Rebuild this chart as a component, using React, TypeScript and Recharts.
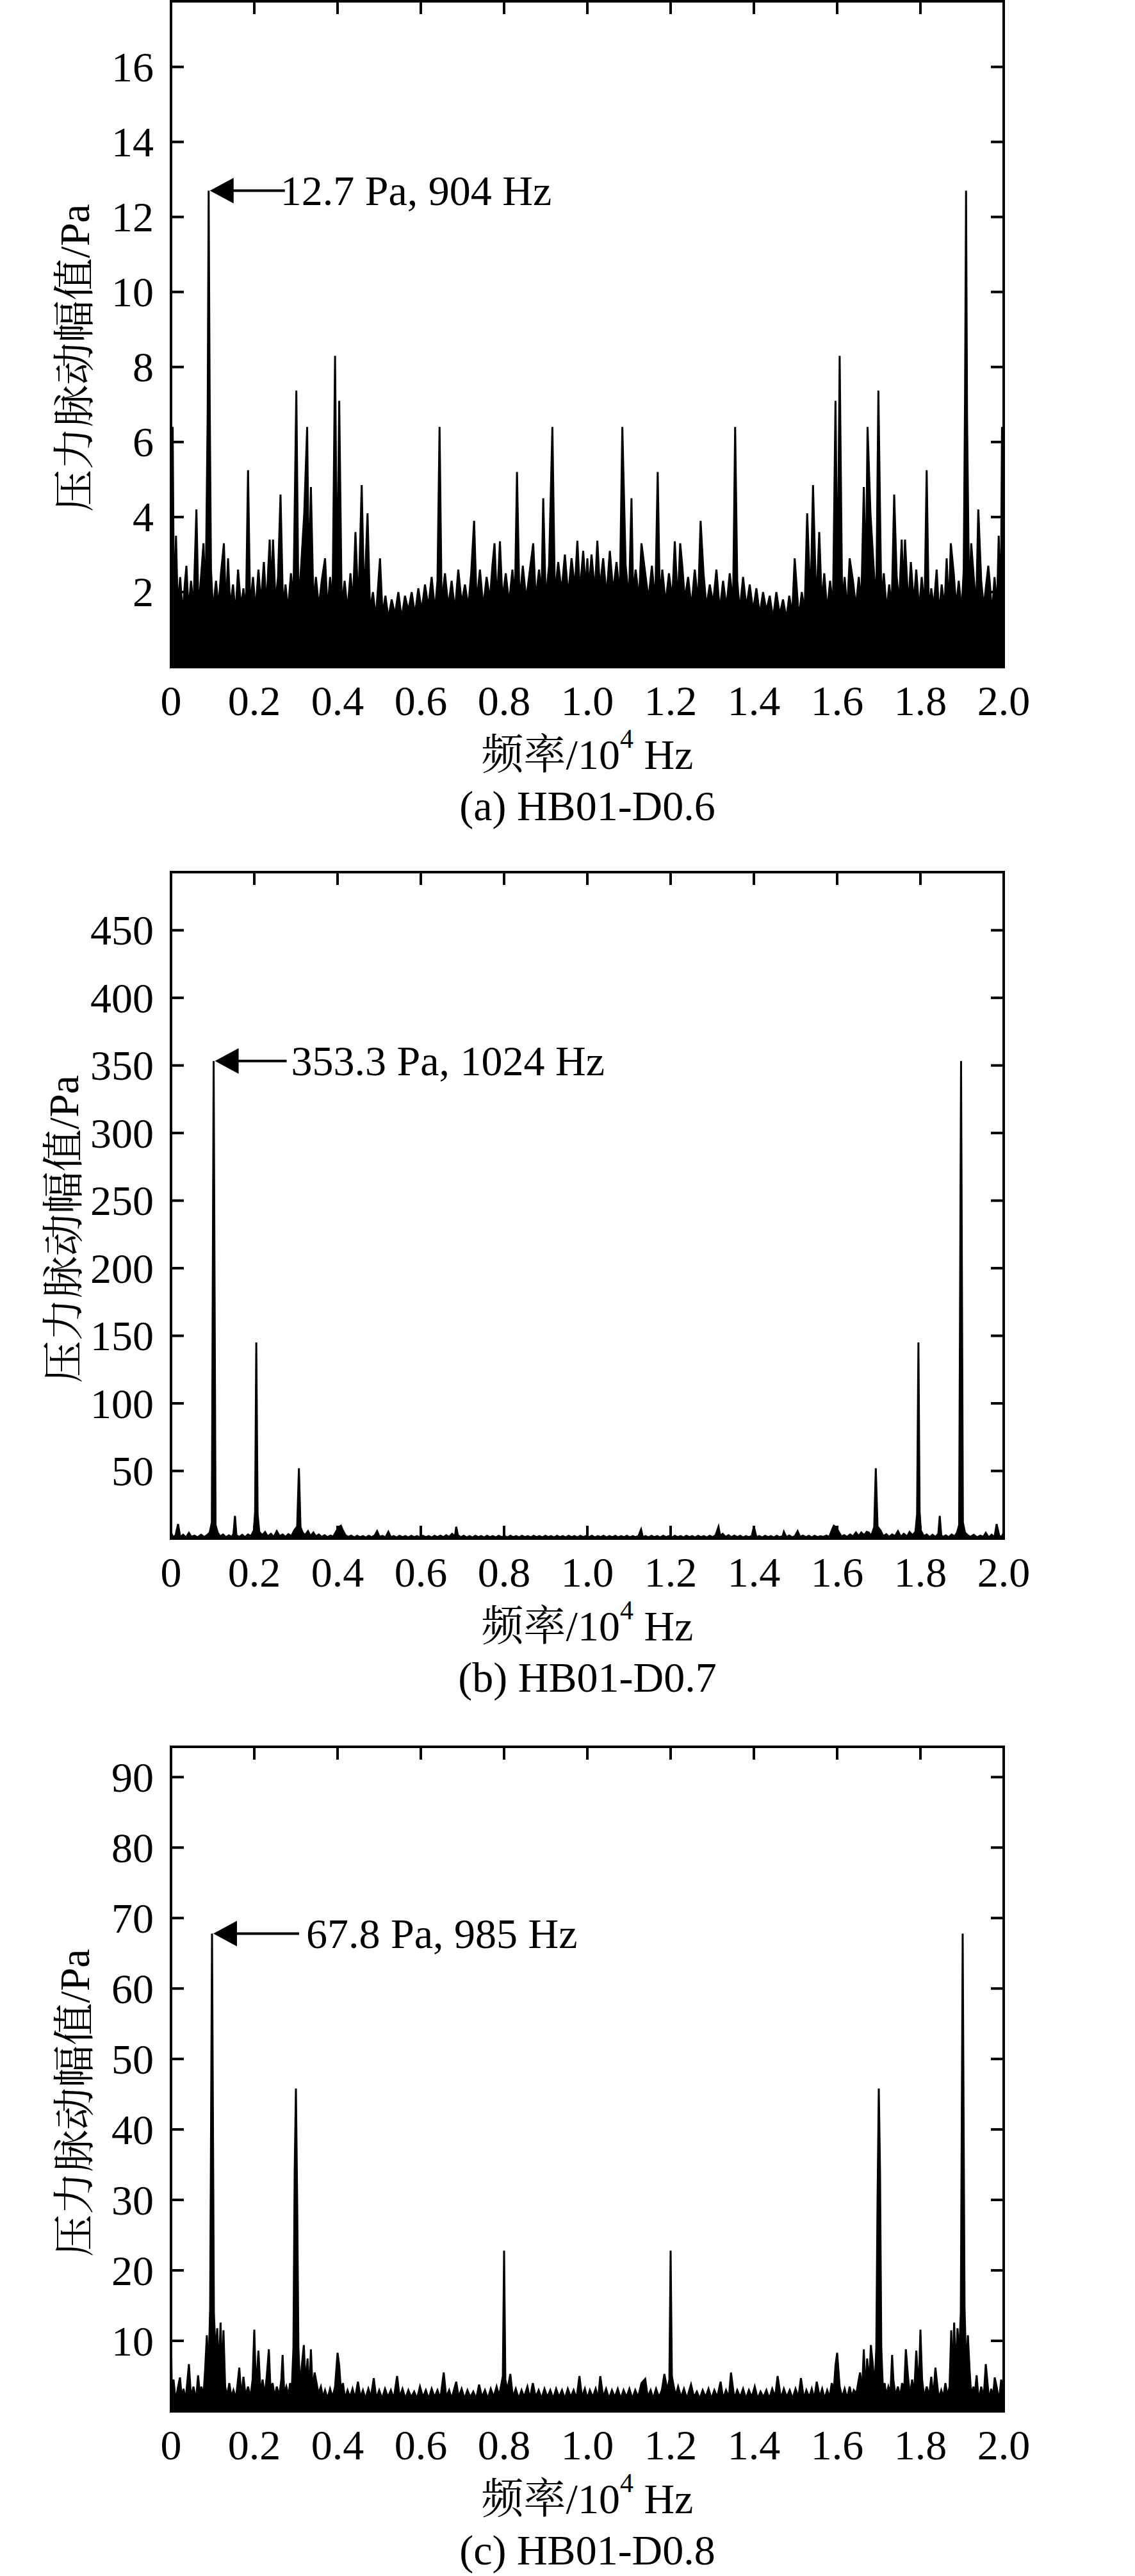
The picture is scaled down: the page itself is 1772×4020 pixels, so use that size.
import React from 'react';
import { ComposedChart, Area, Line, XAxis, YAxis, ReferenceDot, ReferenceArea } from 'recharts';

const FONT = "'Liberation Serif', 'Times New Roman', 'Noto Serif CJK SC', 'Noto Sans CJK SC', serif";
const FS = 66;

// frequency in Hz (axis shows 10^4 Hz), amplitude in Pa
const xTicks = [0, 2000, 4000, 6000, 8000, 10000, 12000, 14000, 16000, 18000, 20000];
const yTicksA = [2, 4, 6, 8, 10, 12, 14, 16];
const yTicksB = [50, 100, 150, 200, 250, 300, 350, 400, 450];
const yTicksC = [10, 20, 30, 40, 50, 60, 70, 80, 90];

const spectrumA: [number, number][] = [
  [0,2.0],[40,6.4],[70,1.5],[120,3.5],[160,1.6],[220,2.4],[280,1.4],[330,2.2],[370,2.7],[420,1.5],[480,2.3],[540,1.6],[610,4.2],[660,1.5],[720,2.4],[780,3.3],[830,1.7],[880,6.7],[904,12.7],[928,7.3],[960,2.6],
  [1010,1.5],[1080,2.3],[1140,1.6],[1200,2.5],[1270,3.3],[1320,1.5],[1370,2.9],[1420,1.6],[1490,2.2],[1550,1.4],[1610,2.6],[1680,1.6],[1740,2.1],[1800,1.5],[1850,5.25],[1900,1.6],[1970,2.4],
  [2030,1.5],[2100,2.6],[2160,1.7],[2230,2.8],[2290,1.6],[2370,3.4],[2410,2.0],[2450,3.4],[2510,1.7],[2570,2.4],[2630,4.6],[2690,1.6],[2750,2.2],[2810,1.5],[2880,2.5],[2940,1.8],
  [3010,7.37],[3060,1.7],[3120,2.6],[3200,4.1],[3270,6.4],[3310,2.2],[3360,4.8],[3420,1.7],[3480,2.4],[3550,1.6],[3620,2.3],[3700,2.9],[3760,1.5],[3820,2.4],[3880,1.7],[3940,8.3],[3990,1.8],
  [4040,7.1],[4100,1.6],[4170,2.3],[4240,1.5],[4310,2.5],[4370,1.7],[4430,3.6],[4500,1.6],[4580,4.85],[4640,1.7],[4720,4.1],[4780,1.5],[4850,2.0],[4920,1.3],
  [5020,2.9],[5080,1.4],[5150,1.9],[5220,1.3],[5300,1.8],[5380,1.4],[5460,2.0],[5540,1.3],[5620,1.9],[5700,1.5],[5780,2.0],[5860,1.4],[5940,2.1],
  [6020,1.5],[6100,2.2],[6180,1.6],[6260,2.4],[6340,1.5],[6400,2.3],[6450,6.4],[6500,1.7],[6580,2.5],[6660,1.6],[6740,2.3],[6820,1.5],[6900,2.6],[6980,1.7],
  [7060,2.2],[7140,1.6],[7210,2.5],[7280,3.9],[7340,1.7],[7420,2.6],[7500,1.6],[7580,2.4],[7660,1.8],[7720,2.7],[7770,3.3],[7830,1.7],[7900,3.35],[7960,1.8],
  [8040,2.5],[8120,1.7],[8200,2.6],[8260,1.8],[8310,5.2],[8370,1.7],[8450,2.7],[8530,1.8],[8610,2.5],[8700,3.3],[8760,1.8],[8840,2.6],[8900,1.9],[8940,4.5],
  [9000,1.8],[9080,2.7],[9160,6.4],[9220,1.9],[9300,2.8],[9380,2.0],[9460,3.0],[9540,1.9],[9620,2.9],[9700,2.1],[9760,3.37],[9820,2.0],[9900,3.1],[9960,2.1],
  [10000,2.9],[10040,2.1],[10100,3.0],[10180,2.0],[10240,3.37],[10300,2.1],[10380,2.9],[10460,1.9],[10540,3.1],[10620,2.0],[10700,2.8],[10780,1.9],[10840,6.4],[10920,2.7],
  [11000,1.8],[11060,4.5],[11100,1.9],[11160,2.6],[11240,1.8],[11300,3.3],[11390,2.5],[11470,1.8],[11550,2.7],[11630,1.7],[11690,5.2],[11740,1.8],[11800,2.6],[11880,1.7],[11960,2.5],
  [12040,1.8],[12100,3.35],[12170,1.7],[12230,3.3],[12280,2.7],[12340,1.8],[12420,2.4],[12500,1.6],[12580,2.6],[12660,1.7],[12720,3.9],[12790,2.5],[12860,1.6],[12940,2.2],
  [13020,1.7],[13100,2.6],[13180,1.5],[13260,2.3],[13340,1.6],[13420,2.5],[13500,1.7],[13550,6.4],[13600,2.3],[13660,1.5],[13740,2.4],[13820,1.6],[13900,2.2],[13980,1.5],
  [14060,2.1],[14140,1.4],[14220,2.0],[14300,1.5],[14380,1.9],[14460,1.3],[14540,2.0],[14620,1.4],[14700,1.8],[14780,1.3],[14850,1.9],[14920,1.4],[14980,2.9],
  [15080,1.3],[15150,2.0],[15220,1.5],[15280,4.1],[15360,1.7],[15420,4.85],[15500,1.6],[15570,3.6],[15630,1.7],[15690,2.5],[15760,1.5],[15830,2.3],[15900,1.6],[15960,7.1],
  [16010,1.8],[16060,8.3],[16120,1.7],[16180,2.4],[16240,1.5],[16300,2.9],[16380,2.3],[16450,1.6],[16520,2.4],[16580,1.7],[16640,4.8],[16690,2.2],[16730,6.4],[16800,4.1],[16880,2.6],[16940,1.7],[16990,7.37],
  [17060,1.8],[17120,2.5],[17190,1.5],[17250,2.2],[17310,1.6],[17370,4.6],[17430,2.4],[17490,1.7],[17550,3.4],[17590,2.0],[17630,3.4],[17710,1.6],[17770,2.8],[17840,1.7],[17900,2.6],[17970,1.5],
  [18030,2.4],[18100,1.6],[18150,5.25],[18200,1.5],[18260,2.1],[18320,1.6],[18390,2.6],[18450,1.4],[18510,2.2],[18580,1.6],[18630,2.9],[18680,1.5],[18730,3.3],[18800,2.5],[18860,1.6],[18920,2.3],[18990,1.5],
  [19040,2.6],[19072,7.3],[19096,12.7],[19120,6.7],[19170,1.7],[19220,3.3],[19280,2.4],[19340,1.6],[19390,4.2],[19460,2.3],[19520,1.6],[19580,2.2],[19630,2.7],[19670,2.2],[19720,1.4],[19780,2.4],[19840,1.6],[19880,3.5],[19930,1.5],[19960,6.4],[20000,2.0],
];

const spectrumB: [number, number][] = [
  [0,4.5],[50,1.0],[110,2.4],[170,10.7],[220,1.0],[290,2.8],[360,0.8],[430,4.2],[490,1.2],[560,2.2],[640,0.9],[720,2.8],[800,1.2],[870,2.6],[930,4.5],[980,12],[1024,353.3],[1070,10],
  [1120,4.5],[1180,1.5],[1250,3.0],[1320,1.0],[1390,2.4],[1460,1.2],[1500,3.5],[1536,16.8],[1570,2.5],[1640,1.2],[1710,2.8],[1780,1.0],[1850,3.0],[1920,1.8],[1990,6],
  [2020,20],[2048,145],[2080,18],[2120,5],[2190,2.5],[2260,4.8],[2320,1.5],[2400,3.5],[2470,1.2],[2540,5.5],[2610,1.8],[2680,3.0],[2750,1.2],[2820,3.2],[2890,1.8],[2960,6.0],
  [3030,9],[3072,52],[3110,8.5],[3160,4.5],[3220,2.5],[3290,5.5],[3350,1.8],[3420,4.5],[3480,1.5],[3550,3.0],[3620,1.2],[3690,2.5],[3760,1.0],[3830,2.2],[3900,1.5],[3970,5.5],
  [4030,8.5],[4080,9.5],[4130,6.0],[4190,2.5],[4260,1.2],[4330,2.2],[4400,0.8],[4470,2.0],[4540,1.0],[4610,1.8],[4680,0.8],[4750,2.0],[4820,1.0],[4890,2.2],[4950,5.5],
  [5010,1.2],[5080,2.0],[5150,0.8],[5220,5.0],[5280,1.0],[5350,1.8],[5420,0.8],[5490,2.0],[5560,1.0],[5630,1.8],[5700,0.8],[5770,2.0],[5840,1.0],[5910,1.8],[5980,0.8],
  [6050,2.0],[6120,1.0],[6190,1.8],[6260,0.8],[6330,2.0],[6400,1.0],[6470,2.2],[6540,1.0],[6610,2.5],[6680,1.2],[6750,3.5],[6820,1.5],[6850,8.7],[6890,2.5],[6960,1.0],
  [7030,2.0],[7100,0.8],[7170,1.8],[7240,0.8],[7310,2.0],[7380,1.0],[7450,1.8],[7520,0.8],[7590,2.0],[7660,1.0],[7730,1.8],[7800,0.8],[7870,2.0],[7940,1.0],
  [8010,1.8],[8080,0.8],[8150,2.0],[8220,1.0],[8290,1.8],[8360,0.8],[8430,2.0],[8500,1.0],[8570,1.8],[8640,0.8],[8710,2.0],[8780,1.0],[8850,1.8],[8920,0.8],[8990,2.0],
  [9060,1.0],[9130,1.8],[9200,0.8],[9270,2.0],[9340,1.0],[9410,1.8],[9480,0.8],[9550,2.0],[9620,1.0],[9690,1.8],[9760,0.8],[9830,2.0],[9900,1.0],[9970,1.8],
  [10040,1.0],[10110,2.0],[10180,0.8],[10250,1.8],[10320,1.0],[10390,2.0],[10460,0.8],[10530,1.8],[10600,1.0],[10670,2.0],[10740,0.8],[10810,1.8],[10880,1.0],[10950,2.0],
  [11020,0.8],[11090,1.8],[11160,1.0],[11230,2.0],[11290,6.7],[11330,1.0],[11400,1.8],[11470,0.8],[11540,2.0],[11610,1.0],[11680,1.8],[11750,0.8],[11820,2.0],[11890,1.0],[11960,1.8],
  [12030,0.8],[12100,2.0],[12170,1.0],[12240,1.8],[12310,0.8],[12380,2.0],[12450,1.0],[12520,1.8],[12590,0.8],[12660,2.0],[12730,1.0],[12800,1.8],[12870,0.8],[12940,2.0],
  [13010,1.0],[13080,2.5],[13150,8.7],[13190,2.0],[13250,3.5],[13320,1.2],[13390,2.5],[13460,1.0],[13530,2.2],[13600,1.0],[13670,2.0],[13740,0.8],[13810,1.8],[13880,1.0],[13950,2.0],
  [14000,8.7],[14060,1.0],[14130,1.8],[14200,0.8],[14270,2.0],[14340,1.0],[14410,1.8],[14480,0.8],[14550,2.0],[14620,1.0],[14690,1.8],[14720,5.0],[14780,1.0],[14850,2.2],[14920,0.8],[14990,2.0],
  [15050,5.5],[15110,1.2],[15180,2.2],[15250,1.0],[15320,2.0],[15390,0.8],[15460,2.0],[15530,1.0],[15600,1.8],[15670,1.2],[15740,2.2],[15810,1.2],[15870,6.0],[15920,9.5],[15970,8.5],
  [16030,5.5],[16100,1.5],[16170,2.5],[16240,1.2],[16310,3.0],[16380,1.5],[16450,4.5],[16520,1.8],[16580,4.5],[16650,2.5],[16710,5.0],[16760,4.5],[16820,2.0],[16890,8.5],[16928,52],[16970,9],
  [17040,6.0],[17110,1.8],[17180,3.2],[17250,1.2],[17320,3.0],[17390,1.8],[17460,5.5],[17530,1.2],[17600,3.5],[17680,1.5],[17740,4.8],[17810,2.5],[17880,5],[17920,18],[17952,145],[17980,20],
  [18010,6],[18080,1.8],[18150,3.0],[18220,1.0],[18290,2.8],[18360,1.2],[18430,3.5],[18464,16.8],[18500,2.5],[18540,1.2],[18610,2.4],[18680,1.0],[18750,3.0],[18820,1.5],[18880,4.5],[18930,10],[18976,353.3],
  [19020,12],[19070,4.5],[19130,2.6],[19200,1.2],[19280,2.8],[19360,0.9],[19440,2.2],[19510,1.2],[19570,4.2],[19640,0.8],[19710,2.8],[19780,1.0],[19830,10.7],[19890,2.4],[19950,1.0],[20000,4.5],
];

const spectrumC: [number, number][] = [
  [0,11],[20,2.5],[60,4.5],[110,1.5],[170,3.5],[215,4.8],[260,1.8],[300,3.2],[350,1.5],[430,6.7],[480,2.0],[540,3.5],[600,1.5],[650,5.1],[700,2.0],[730,3.5],[780,2.2],[820,6.0],[860,10.8],[900,5.5],[940,14.7],[985,67.8],
  [1030,14],[1070,8],[1110,11.8],[1150,5.5],[1190,12.6],[1230,4.5],[1260,11.5],[1300,3.5],[1350,2.2],[1400,4.0],[1450,2.0],[1500,3.0],[1560,1.8],[1640,6.2],[1690,2.0],[1740,4.9],[1790,2.2],[1850,3.5],[1910,2.0],[1960,4.5],
  [2000,11.6],[2040,3.0],[2100,8.6],[2150,2.5],[2200,4.5],[2250,2.2],[2300,5.0],[2350,8.8],[2390,3.0],[2440,4.0],[2490,2.0],[2540,3.5],[2600,2.2],[2650,4.5],[2680,8.0],[2720,2.5],[2770,3.5],[2820,2.2],[2860,4.0],[2900,3.0],[2940,9.0],[2970,34],
  [3000,45.8],[3030,30],[3060,9.0],[3100,3.5],[3150,7.0],[3190,9.4],[3230,4.0],[3280,7.5],[3320,2.5],[3360,8.8],[3400,3.0],[3450,5.5],[3490,4.2],[3540,2.5],[3600,3.5],[3650,2.0],[3700,3.0],[3760,1.8],[3820,3.2],[3880,2.0],[3940,3.5],
  [4000,8.3],[4040,6.5],[4080,3.0],[4130,4.0],[4180,1.8],[4240,3.0],[4300,2.0],[4360,3.2],[4420,1.8],[4490,4.2],[4550,2.0],[4610,3.0],[4670,1.8],[4740,3.2],[4800,2.0],[4870,4.7],[4930,1.8],
  [5000,3.0],[5070,1.8],[5140,3.2],[5210,2.0],[5280,3.0],[5350,1.8],[5430,5.0],[5490,2.0],[5560,3.2],[5630,1.8],[5700,3.0],[5770,2.0],[5840,2.8],[5910,1.8],[5980,3.5],
  [6050,2.0],[6120,3.0],[6190,1.8],[6260,3.2],[6330,2.0],[6400,3.0],[6470,1.8],[6550,5.5],[6610,2.0],[6680,3.0],[6740,1.8],[6850,4.2],[6910,2.0],[6980,3.2],
  [7050,1.8],[7120,3.0],[7190,2.0],[7260,2.8],[7330,1.8],[7400,3.8],[7470,2.0],[7540,3.0],[7610,1.8],[7680,3.2],[7750,2.0],[7820,3.5],[7880,2.2],[7940,4.0],[7970,5.0],
  [8000,22.8],[8030,4.5],[8080,3.0],[8150,5.3],[8210,2.0],[8280,3.2],[8350,1.8],[8420,3.0],[8480,2.0],[8560,3.5],[8620,1.8],[8690,4.0],[8760,2.0],[8830,3.0],[8900,1.8],[8970,3.2],
  [9040,2.0],[9110,3.0],[9180,1.8],[9250,3.2],[9320,2.0],[9390,3.0],[9460,1.8],[9530,3.2],[9600,2.0],[9670,3.0],[9740,1.8],[9810,5.0],[9870,2.0],[9940,3.2],
  [10000,1.8],[10060,3.0],[10130,2.0],[10200,3.2],[10260,1.8],[10310,5.0],[10380,2.0],[10450,3.2],[10520,1.8],[10590,3.0],[10660,2.0],[10730,3.2],[10800,1.8],[10870,3.0],[10940,2.0],
  [11010,3.2],[11080,1.8],[11150,3.0],[11220,2.0],[11300,4.0],[11390,4.6],[11450,2.0],[11520,3.0],[11580,1.8],[11650,3.2],[11720,2.0],[11790,3.0],[11850,5.3],[11920,3.0],[11970,4.5],
  [12000,22.8],[12030,5.0],[12060,4.0],[12120,2.2],[12180,3.5],[12250,2.0],[12320,3.2],[12390,1.8],[12490,3.8],[12560,2.0],[12630,2.8],[12700,1.8],[12770,3.0],[12840,2.0],[12910,3.2],[12980,1.8],
  [13050,3.0],[13120,2.0],[13200,4.2],[13260,1.8],[13330,3.0],[13400,2.0],[13450,5.5],[13530,1.8],[13600,3.0],[13670,2.0],[13740,3.2],[13810,1.8],[13880,3.0],[13950,2.0],
  [14020,3.5],[14090,1.8],[14160,2.8],[14230,2.0],[14300,3.0],[14370,1.8],[14440,3.2],[14510,2.0],[14570,5.0],[14650,1.8],[14720,3.2],[14790,2.0],[14860,3.0],[14930,1.8],
  [15000,3.2],[15070,2.0],[15130,4.7],[15200,1.8],[15260,3.0],[15330,2.0],[15390,3.2],[15450,1.8],[15510,4.2],[15580,2.0],[15640,3.2],[15700,1.8],[15760,3.0],[15820,2.0],[15870,4.0],[15920,3.0],[15960,6.5],
  [16000,8.3],[16060,3.5],[16120,2.0],[16180,3.2],[16240,1.8],[16300,3.5],[16350,2.0],[16400,3.0],[16460,2.5],[16510,4.2],[16550,5.5],[16600,3.0],[16640,8.8],[16680,2.5],[16720,7.5],[16770,4.0],[16810,9.4],[16850,7.0],[16900,3.5],[16940,9.0],[16970,30],
  [17000,45.8],[17030,34],[17060,9.0],[17100,3.0],[17140,4.0],[17180,2.2],[17230,3.5],[17280,2.5],[17320,8.0],[17350,4.5],[17400,2.2],[17460,3.5],[17510,2.0],[17560,4.0],[17610,3.0],[17650,8.8],[17700,5.0],[17750,2.2],[17800,4.5],[17850,2.5],[17900,8.6],[17960,3.0],
  [18000,11.6],[18040,4.5],[18090,2.0],[18150,3.5],[18210,2.2],[18260,4.9],[18310,2.0],[18360,6.2],[18440,1.8],[18500,3.0],[18550,2.0],[18600,4.0],[18650,2.2],[18700,3.5],[18740,11.5],[18770,4.5],[18810,12.6],[18850,5.5],[18890,11.8],[18930,8],[18970,14],
  [19015,67.8],[19060,14.7],[19100,5.5],[19140,10.8],[19180,6.0],[19220,2.2],[19270,3.5],[19300,2.0],[19350,5.1],[19400,1.5],[19460,3.5],[19520,2.0],[19570,6.7],[19650,1.5],[19700,3.2],[19740,1.8],[19785,4.8],[19830,3.5],[19890,1.5],[19940,4.5],[19980,2.5],[20000,5],
];

const peakA = { f: 904, v: 12.7, label: '12.7 Pa, 904 Hz' };
const peakB = { f: 1024, v: 353.3, label: '353.3 Pa, 1024 Hz' };
const peakC = { f: 985, v: 67.8, label: '67.8 Pa, 985 Hz' };

const Y_TITLE = '压力脉动幅值/Pa';
const captions = ['(a) HB01-D0.6', '(b) HB01-D0.7', '(c) HB01-D0.8'];

const TICK_LEN = 20;
const TICK_W = 4;
const fmtX = (v: number) => (v === 0 ? '0' : (v / 10000).toFixed(1));

const txt = { fontSize: FS, fontFamily: FONT, fill: '#000' };

const BottomTick = (props: any) => {
  const { x, y, payload } = props;
  const v = payload.value;
  const edge = v === 0 || v === 20000;
  return (
    <g>
      {!edge && <line x1={x} y1={y} x2={x} y2={y - TICK_LEN} stroke="#000" strokeWidth={TICK_W} />}
      <text x={x} y={y + 52} textAnchor="middle" dominantBaseline="central" {...txt}>{fmtX(v)}</text>
    </g>
  );
};

const TopTick = (props: any) => {
  const { x, y, payload } = props;
  const v = payload.value;
  if (v === 0 || v === 20000) return <g />;
  return <line x1={x} y1={y} x2={x} y2={y + TICK_LEN} stroke="#000" strokeWidth={TICK_W} />;
};

const LeftTick = (props: any) => {
  const { x, y, payload } = props;
  return (
    <g>
      <line x1={x} y1={y} x2={x + TICK_LEN} y2={y} stroke="#000" strokeWidth={TICK_W} />
      <text x={x - 27} y={y} textAnchor="end" dominantBaseline="central" {...txt}>{String(payload.value)}</text>
    </g>
  );
};

const RightTick = (props: any) => {
  const { x, y } = props;
  return <line x1={x} y1={y} x2={x - TICK_LEN} y2={y} stroke="#000" strokeWidth={TICK_W} />;
};

const makeXTitle = (caption: string) => (props: any) => {
  const vb = props.viewBox || { x: 267, y: 0, width: 1300, height: 270 };
  const cx = vb.x + vb.width / 2;
  return (
    <g>
      <text x={cx} y={vb.y + 136} textAnchor="middle" dominantBaseline="central" {...txt}>
        频率/10<tspan fontSize={42} dy={-24}>4</tspan><tspan dy={24}> Hz</tspan>
      </text>
      <text x={cx} y={vb.y + 216} textAnchor="middle" dominantBaseline="central" {...txt}>
        {caption}
      </text>
    </g>
  );
};

const makeYTitle = (tx: number) => (props: any) => {
  const vb = props.viewBox || { x: 0, y: 0, width: 267, height: 1000 };
  const cy = vb.y + vb.height / 2 + 37;
  return (
    <text x={tx} y={cy} transform={`rotate(-90 ${tx} ${cy})`} textAnchor="middle" dominantBaseline="central" {...txt}>
      {Y_TITLE}
    </text>
  );
};

const makeArrow = (label: string, lineLen: number, textDx: number) => (props: any) => {
  const { cx, cy } = props;
  const tx = cx + 2;
  const ty = cy;
  return (
    <g>
      <polygon points={`${tx},${ty} ${tx + 37},${ty - 20} ${tx + 37},${ty + 20}`} fill="#000" />
      <line x1={tx + 30} y1={ty} x2={tx + lineLen} y2={ty} stroke="#000" strokeWidth={4} />
      <text x={tx + textDx} y={ty} dominantBaseline="central" {...txt}>
        {label}
      </text>
    </g>
  );
};

type PanelProps = {
  pairs: [number, number][];
  yMax: number;
  yTicks: number[];
  plotTop: number;
  plotH: number;
  titleX: number;
  caption: string;
  peak: { f: number; v: number; label: string };
  lineLen: number;
  textDx: number;
};

function Panel({ pairs, yMax, yTicks, plotTop, plotH, titleX, caption, peak, lineLen, textDx }: PanelProps) {
  const rows = pairs.map(([f, v]) => ({ f, v }));
  const T = 10;
  const XH = 270;
  const H = T + 1 + plotH + XH;
  return (
    <div style={{ position: 'absolute', left: 0, top: plotTop - T - 1, width: 1772, height: H }}>
      <ComposedChart width={1772} height={H} data={rows} margin={{ top: T, right: 204, bottom: 0, left: 0 }}>
        <XAxis
          xAxisId="b"
          type="number"
          dataKey="f"
          domain={[0, 20000]}
          ticks={xTicks}
          interval={0}
          allowDataOverflow
          tickSize={0}
          tickMargin={0}
          height={XH}
          axisLine={false}
          tickLine={false}
          tick={<BottomTick />}
          label={makeXTitle(caption)}
        />
        <XAxis
          xAxisId="t"
          orientation="top"
          type="number"
          dataKey="f"
          domain={[0, 20000]}
          ticks={xTicks}
          interval={0}
          allowDataOverflow
          tickSize={0}
          tickMargin={0}
          height={1}
          axisLine={false}
          tickLine={false}
          tick={<TopTick />}
        />
        <YAxis
          yAxisId="l"
          type="number"
          domain={[0, yMax]}
          ticks={yTicks}
          interval={0}
          allowDataOverflow
          tickSize={0}
          tickMargin={0}
          width={267}
          axisLine={false}
          tickLine={false}
          tick={<LeftTick />}
          label={makeYTitle(titleX)}
        />
        <YAxis
          yAxisId="r"
          orientation="right"
          type="number"
          domain={[0, yMax]}
          ticks={yTicks}
          interval={0}
          allowDataOverflow
          tickSize={0}
          tickMargin={0}
          width={1}
          axisLine={false}
          tickLine={false}
          tick={<RightTick />}
        />
        <Area
          xAxisId="b"
          yAxisId="l"
          type="linear"
          dataKey="v"
          stroke="#000"
          strokeWidth={3}
          strokeLinejoin="miter"
          fill="#000"
          fillOpacity={1}
          baseValue={0}
          dot={false}
          activeDot={false}
          isAnimationActive={false}
        />
        <Line
          xAxisId="t"
          yAxisId="r"
          type="linear"
          dataKey="v"
          stroke="none"
          dot={false}
          activeDot={false}
          isAnimationActive={false}
        />
        <ReferenceArea
          xAxisId="b"
          yAxisId="l"
          x1={0}
          x2={20000}
          y1={0}
          y2={yMax}
          fill="none"
          fillOpacity={0}
          stroke="#000"
          strokeWidth={4}
          ifOverflow="visible"
        />
        <ReferenceDot
          xAxisId="b"
          yAxisId="l"
          x={peak.f}
          y={peak.v}
          r={0}
          ifOverflow="visible"
          shape={makeArrow(peak.label, lineLen, textDx)}
        />
      </ComposedChart>
    </div>
  );
}

export default function App() {
  return (
    <div style={{ position: 'absolute', left: 0, top: 0, width: 1772, height: 4020, background: '#fff', overflow: 'hidden' }}>
      <Panel pairs={spectrumA} yMax={17.75} yTicks={yTicksA} plotTop={2} plotH={1039} titleX={116} caption={captions[0]} peak={peakA} lineLen={117} textDx={110} />
      <Panel pairs={spectrumB} yMax={493} yTicks={yTicksB} plotTop={1361} plotH={1040} titleX={99} caption={captions[1]} peak={peakB} lineLen={112} textDx={119} />
      <Panel pairs={spectrumC} yMax={94.3} yTicks={yTicksC} plotTop={2726} plotH={1037} titleX={116} caption={captions[2]} peak={peakC} lineLen={134} textDx={145} />
    </div>
  );
}
